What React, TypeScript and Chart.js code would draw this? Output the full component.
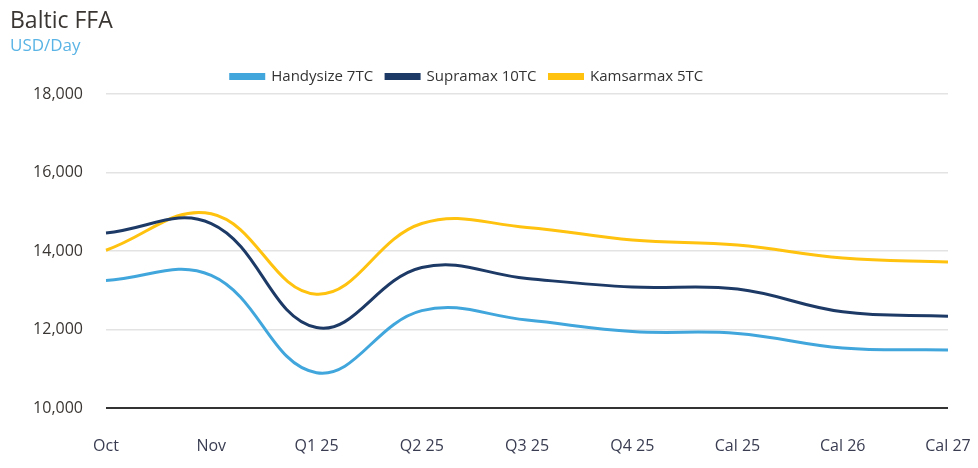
import React, { useEffect, useRef } from "react";
import { Chart, registerables } from "chart.js";

Chart.register(...registerables);

const categories = ["Oct", "Nov", "Q1 25", "Q2 25", "Q3 25", "Q4 25", "Cal 25", "Cal 26", "Cal 27"];
const handysize = [13250, 13380, 10900, 12480, 12240, 11950, 11900, 11530, 11480];
const supramax = [14460, 14700, 12050, 13580, 13300, 13080, 13030, 12450, 12340];
const kamsarmax = [14020, 14950, 12900, 14700, 14600, 14280, 14150, 13820, 13720];
const seriesNames = ["Handysize 7TC", "Supramax 10TC", "Kamsarmax 5TC"];
const yTicks = [10000, 12000, 14000, 16000, 18000];

const FONT = "'Open Sans', 'Noto Sans', sans-serif";

const shiftLegend = {
  id: "shiftLegend",
  afterLayout(chart: any) {
    const l = chart.legend;
    if (l) {
      l.left -= 12;
      l.right -= 12;
    }
  },
};

export default function App() {
  const ref = useRef<HTMLCanvasElement | null>(null);
  useEffect(() => {
    if (!ref.current) return;
    const chart = new Chart(ref.current, {
      type: "line",
      data: {
        labels: categories,
        datasets: [
          { label: seriesNames[0], data: handysize, borderColor: "#41a6dc", backgroundColor: "#41a6dc", borderWidth: 3, pointRadius: 0, tension: 0.4 },
          { label: seriesNames[1], data: supramax, borderColor: "#1d3a66", backgroundColor: "#1d3a66", borderWidth: 3, pointRadius: 0, tension: 0.4 },
          { label: seriesNames[2], data: kamsarmax, borderColor: "#ffc20e", backgroundColor: "#ffc20e", borderWidth: 3, pointRadius: 0, tension: 0.4 },
        ],
      },
      plugins: [shiftLegend],
      options: {
        animation: false,
        responsive: true,
        maintainAspectRatio: false,
        layout: { padding: { left: 10, right: 30, top: 8, bottom: 0 } },
        plugins: {
          title: {
            display: true,
            text: "Baltic FFA",
            align: "start",
            color: "#3a3633",
            font: { family: FONT, size: 23, weight: "normal" },
            padding: { top: 0, bottom: 0 },
          },
          subtitle: {
            display: true,
            text: "USD/Day",
            align: "start",
            color: "#5ab4e5",
            font: { family: FONT, size: 17, weight: "normal" },
            padding: { top: 0, bottom: 0 },
          },
          legend: {
            display: true,
            labels: {
              boxWidth: 33,
              boxHeight: 4,
              color: "#333",
              font: { family: FONT, size: 15 },
              padding: 13,
            },
          },
          tooltip: { enabled: false },
        },
        scales: {
          x: {
            offset: false,
            afterFit: (scale: any) => {
              scale.height = 60;
              scale.paddingLeft = 0;
              scale.paddingRight = 0;
            },
            grid: { display: false },
            border: { display: false },
            ticks: { color: "#3a3d52", font: { family: FONT, size: 16 }, padding: 21, maxRotation: 0, autoSkip: false },
          },
          y: {
            min: 10000,
            max: 18000,
            afterFit: (scale: any) => { scale.width = 96; },
            afterBuildTicks: (scale: any) => { scale.ticks = yTicks.map((v) => ({ value: v })); },
            grid: {
              drawTicks: false,
              color: (ctx: any) => (ctx.tick && ctx.tick.value === 10000 ? "#333333" : "#e3e3e3"),
              lineWidth: (ctx: any) => (ctx.tick && ctx.tick.value === 10000 ? 2 : 1.5),
            },
            border: { display: false },
            ticks: {
              color: "#3a3633",
              font: { family: FONT, size: 16 },
              padding: 23,
              callback: (v: any) => Number(v).toLocaleString("en-US"),
            },
          },
        },
      },
    });
    return () => chart.destroy();
  }, []);
  return (
    <div style={{ position: "absolute", left: 0, top: 0, width: 978, height: 468, background: "#fff" }}>
      <canvas ref={ref} />
    </div>
  );
}
